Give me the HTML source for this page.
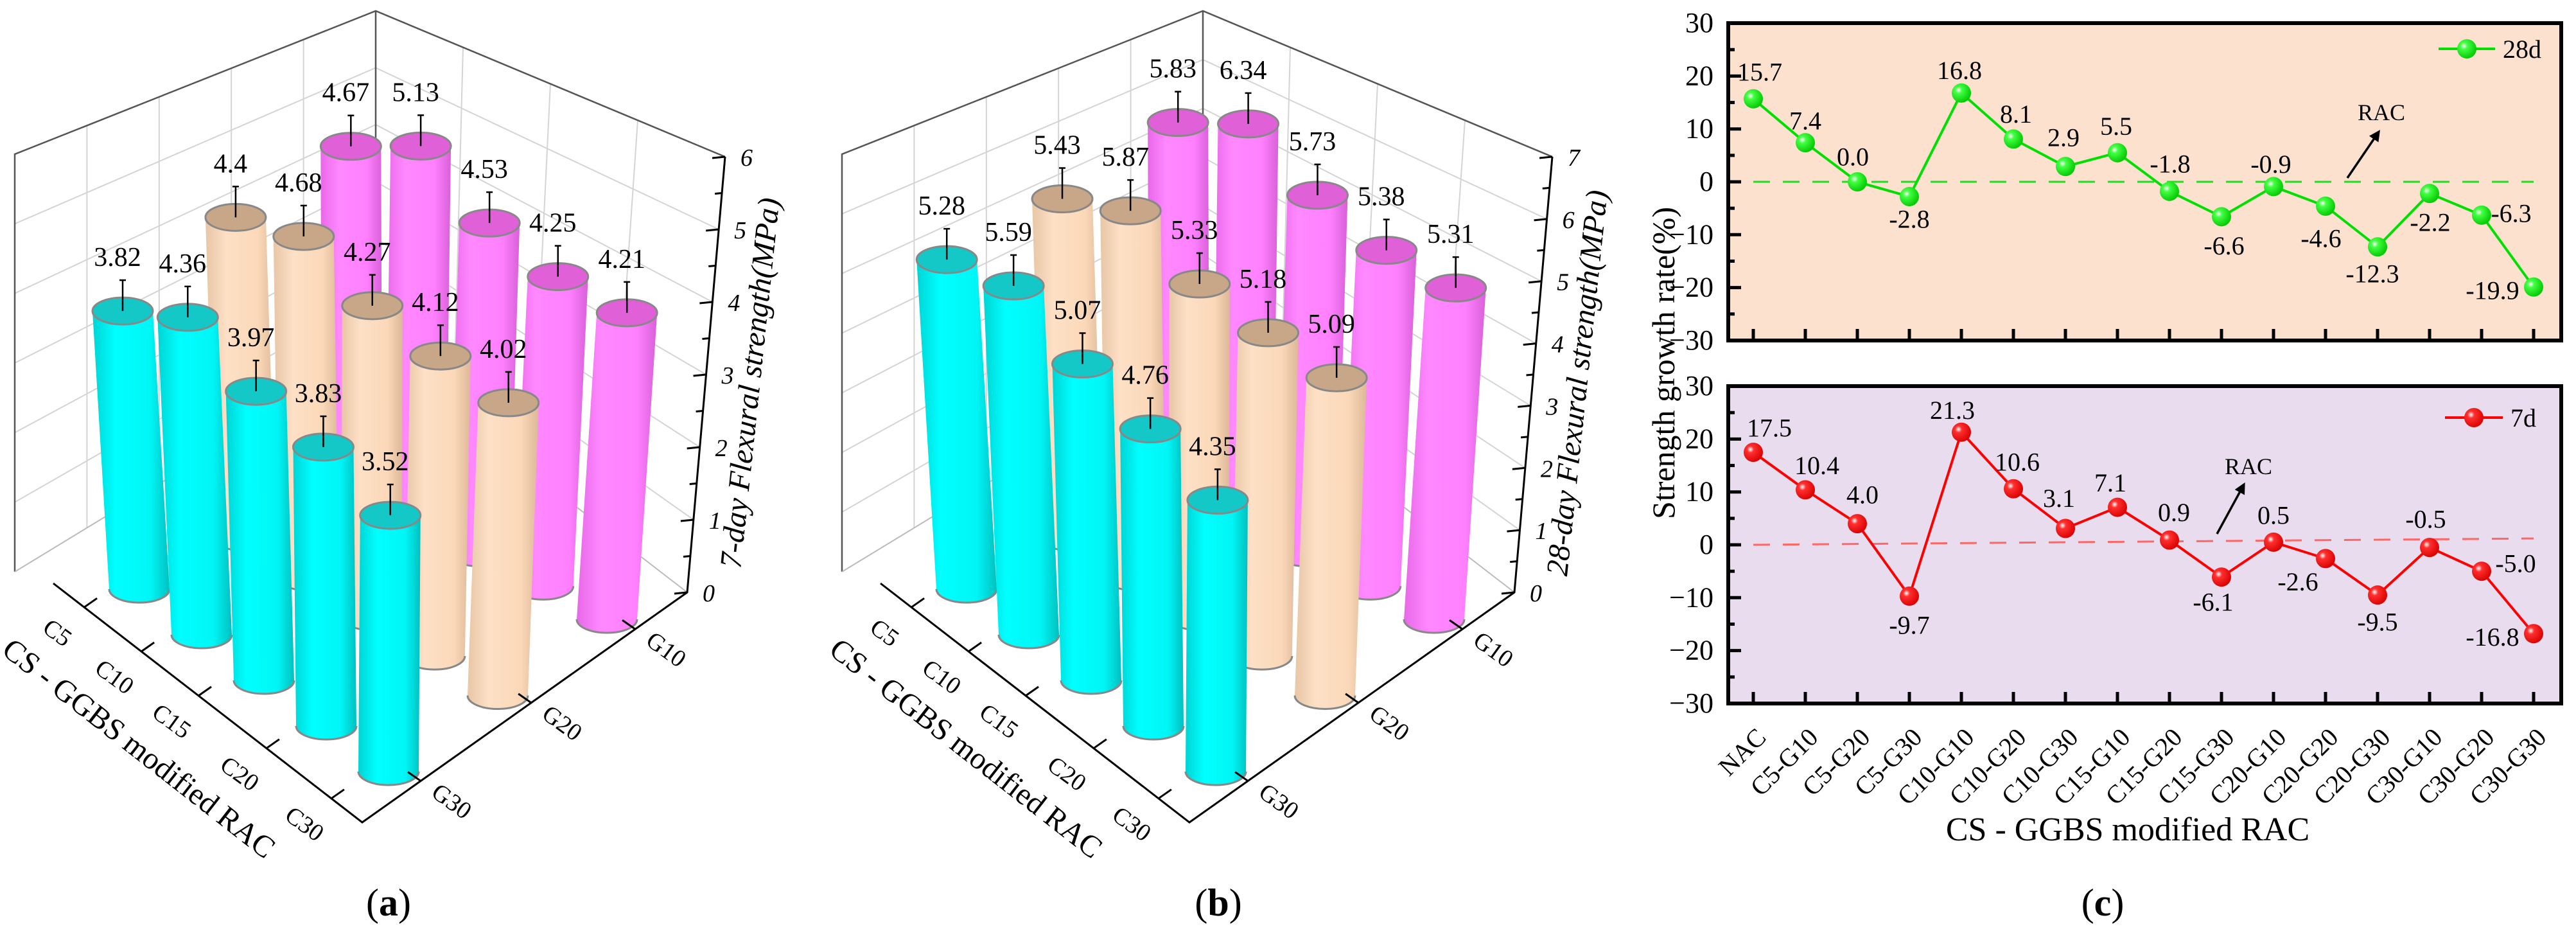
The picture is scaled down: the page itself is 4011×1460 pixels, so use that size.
<!DOCTYPE html>
<html><head><meta charset="utf-8"><style>
html,body{margin:0;padding:0;background:#fff;}
svg{display:block;font-family:"Liberation Serif",serif;}
</style></head><body>
<svg id="fig" width="4011" height="1460" viewBox="0 0 4011 1460" xmlns="http://www.w3.org/2000/svg">
<defs>
<linearGradient id="gCyan" x1="0" x2="1" y1="0" y2="0"><stop offset="0" stop-color="#00d4d4"/><stop offset="0.3" stop-color="#00ffff"/><stop offset="0.75" stop-color="#00f6f6"/><stop offset="1" stop-color="#00c0c0"/></linearGradient>
<linearGradient id="gTan" x1="0" x2="1" y1="0" y2="0"><stop offset="0" stop-color="#e8c6a6"/><stop offset="0.3" stop-color="#fde0c6"/><stop offset="0.75" stop-color="#fbd8b8"/><stop offset="1" stop-color="#dcb898"/></linearGradient>
<linearGradient id="gPink" x1="0" x2="1" y1="0" y2="0"><stop offset="0" stop-color="#e868e8"/><stop offset="0.3" stop-color="#ff88ff"/><stop offset="0.75" stop-color="#ff80ff"/><stop offset="1" stop-color="#d860d8"/></linearGradient>
<radialGradient id="sGreen" cx="0.35" cy="0.35" r="0.7"><stop offset="0" stop-color="#ffffff"/><stop offset="0.25" stop-color="#44ff44"/><stop offset="1" stop-color="#00c800"/></radialGradient>
<radialGradient id="sRed" cx="0.35" cy="0.35" r="0.7"><stop offset="0" stop-color="#ffffff"/><stop offset="0.25" stop-color="#ff3030"/><stop offset="1" stop-color="#d80000"/></radialGradient>
<marker id="arr" viewBox="0 0 10 10" refX="8" refY="5" markerWidth="5" markerHeight="5" orient="auto"><path d="M0,0 L10,5 L0,10 Z" fill="#000"/></marker>
</defs>
<g id="panelA"></g>
<g id="panelB"></g>
<g id="panelC"></g>
</svg>
<script>
// ---------- data ----------
const cCategories = ["C5","C10","C15","C20","C30"];
const gCategories = ["G10","G20","G30"];
const a_G10 = [4.67,5.13,4.53,4.25,4.21];
const a_G20 = [4.4,4.68,4.27,4.12,4.02];
const a_G30 = [3.82,4.36,3.97,3.83,3.52];
const b_G10 = [5.83,6.34,5.73,5.38,5.31];
const b_G20 = [5.43,5.87,5.33,5.18,5.09];
const b_G30 = [5.28,5.59,5.07,4.76,4.35];
const aTicks = [0,1,2,3,4,5,6];
const bTicks = [0,1,2,3,4,5,6,7];
const cLabels = ["NAC","C5-G10","C5-G20","C5-G30","C10-G10","C10-G20","C10-G30","C15-G10","C15-G20","C15-G30","C20-G10","C20-G20","C20-G30","C30-G10","C30-G20","C30-G30"];
const rate28 = [15.7,7.4,0.0,-2.8,16.8,8.1,2.9,5.5,-1.8,-6.6,-0.9,-4.6,-12.3,-2.2,-6.3,-19.9];
const rate7 = [17.5,10.4,4.0,-9.7,21.3,10.6,3.1,7.1,0.9,-6.1,0.5,-2.6,-9.5,-0.5,-5.0,-16.8];
const rateTicks = [-30,-20,-10,0,10,20,30];

const NS="http://www.w3.org/2000/svg";
function el(tag, attrs, parent, text){
  const e=document.createElementNS(NS,tag);
  for(const k in attrs) e.setAttribute(k,attrs[k]);
  if(text!==undefined) e.textContent=text;
  parent.appendChild(e); return e;
}
function lerp(p,q,t){return [p[0]+(q[0]-p[0])*t,p[1]+(q[1]-p[1])*t];}

// ---------- 3D bar panels ----------
function draw3D(g, dx, series, ticks, axisMax, yTitle, panelLabel, lx){
  const S=p=>[p[0]+dx,p[1]];
  const backTop=S([585,17]), backBot=S([585,548]);
  const leftTop=S([23,240]), leftBot=S([23,890]);
  const rightTop=S([1129,244]), rightBot=S([1070,922]);
  const floorL=S([83,908]), floorF=S([564,1280]);
  // walls
  const walls=el('g',{},g);
  
  
  const nT=ticks.length-1;
  for(let i=1;i<=nT;i++){
    const t=i/nT;
    const a=lerp(leftBot,leftTop,t), b=lerp(backBot,backTop,t), c=lerp(rightBot,rightTop,t);
    el('polyline',{points:`${a} ${b} ${c}`,fill:'none',stroke:'#d4d4d4','stroke-width':2},walls);
  }
  [0.2,0.4,0.6,0.8].forEach(f=>{
    const p=lerp(leftBot,backBot,f), q=lerp(leftTop,backTop,f);
    el('line',{x1:p[0],y1:p[1],x2:q[0],y2:q[1],stroke:'#d4d4d4','stroke-width':2},walls);
  });
  [0.25,0.5,0.75].forEach(f=>{
    const p=lerp(backBot,rightBot,f), q=lerp(backTop,rightTop,f);
    el('line',{x1:p[0],y1:p[1],x2:q[0],y2:q[1],stroke:'#d4d4d4','stroke-width':2},walls);
  });
  el('polyline',{points:`${leftBot} ${leftTop} ${backTop} ${rightTop}`,fill:'none',stroke:'#555','stroke-width':2.5},walls);
  el('polyline',{points:`${leftBot} ${backBot} ${rightBot}`,fill:'none',stroke:'#bbb','stroke-width':2},walls);
  el('line',{x1:backTop[0],y1:backTop[1],x2:backBot[0],y2:backBot[1],stroke:'#555','stroke-width':2.5},walls);

  // bars
  const A=S([217,917]), B=S([605,1201]), C=S([548,757]), D=S([945,964]);
  const V=[567+dx,6745];
  const H=680;
  const bars=[];
  series.forEach((vals,r)=>{
    vals.forEach((v,c)=>{
      const u=c/4, w=r/2;
      const p1=lerp(C,D,u), p2=lerp(A,B,u);
      const bot=lerp(p1,p2,w);
      bars.push({r,c,v,bot});
    });
  });
  bars.sort((p,q)=>p.bot[1]-q.bot[1]);
  const fills=['url(#gPink)','url(#gTan)','url(#gCyan)'];
  const tops=['#e060d8','#c8a688','#14c8c8'];
  const rx=47, ry=21;
  bars.forEach(b=>{
    const hp=b.v/axisMax*H;
    const k=hp/(V[1]-b.bot[1]);
    const bx=b.bot[0], by=b.bot[1];
    const tx=bx+(bx-V[0])*k, ty=by-hp;
    const bg=el('g',{},g);
    
    
    el('path',{d:`M${bx-rx},${by} L${tx-rx},${ty} L${tx+rx},${ty} L${bx+rx},${by} A${rx},${ry} 0 0 1 ${bx-rx},${by} Z`,fill:fills[b.r],stroke:'none'},bg);
    el('path',{d:`M${bx+rx},${by} A${rx},${ry} 0 0 1 ${bx-rx},${by}`,fill:'none',stroke:'#888','stroke-width':3},bg);
    el('ellipse',{cx:tx,cy:ty,rx:rx,ry:ry,fill:tops[b.r],stroke:'#888','stroke-width':3},bg);
    el('line',{x1:tx,y1:ty,x2:tx,y2:ty-48,stroke:'#000','stroke-width':2.5},bg);
    el('line',{x1:tx-5,y1:ty-48,x2:tx+5,y2:ty-48,stroke:'#000','stroke-width':2.5},bg);
    const lab=el('text',{x:tx-8,y:ty-83,'font-size':42,'text-anchor':'middle','dominant-baseline':'central',fill:'#000'},g,String(b.v));
    
    
  });

  // axes lines
  const ax=el('g',{},g);
  
  
  el('polyline',{points:`${floorL} ${floorF} ${rightBot} ${rightTop}`,fill:'none',stroke:'#000','stroke-width':3},ax);
  // vertical ticks
  ticks.forEach((tv,i)=>{
    const p=lerp(rightBot,rightTop,tv/axisMax);
    el('line',{x1:p[0],y1:p[1],x2:p[0]-20,y2:p[1]+2,stroke:'#000','stroke-width':3},ax);
    const t=el('text',{x:p[0]+24,y:p[1]+14,'font-size':38,'font-style':'italic',fill:'#000'},ax,String(tv));
    
    
    if(i<ticks.length-1){
      const m=lerp(rightBot,rightTop,(tv+0.5)/axisMax);
      el('line',{x1:m[0],y1:m[1],x2:m[0]-11,y2:m[1]+1,stroke:'#000','stroke-width':3},ax);
    }
  });
  // C ticks & labels
  const cf=[0.1,0.285,0.47,0.69,0.9];
  cCategories.forEach((c,i)=>{
    const p=lerp(floorL,floorF,cf[i]);
    el('line',{x1:p[0],y1:p[1],x2:p[0]+20,y2:p[1]-14,stroke:'#000','stroke-width':3},ax);
    const t=el('text',{x:p[0]-42,y:p[1]+40,'font-size':38,'text-anchor':'middle','dominant-baseline':'central',transform:`rotate(36 ${p[0]-42} ${p[1]+40})`,fill:'#000'},ax,c);
    
    
  });
  const gf=[0.84,0.52,0.18];
  gCategories.forEach((gc,i)=>{
    const p=lerp(floorF,rightBot,gf[i]);
    el('line',{x1:p[0],y1:p[1],x2:p[0]-20,y2:p[1]-14,stroke:'#000','stroke-width':3},ax);
    const t=el('text',{x:p[0]+48,y:p[1]+32,'font-size':38,'text-anchor':'middle','dominant-baseline':'central',transform:`rotate(36 ${p[0]+48} ${p[1]+32})`,fill:'#000'},ax,gc);
    
    
  });
  const xt=el('text',{x:216+dx,y:1165,'font-size':48,'text-anchor':'middle','dominant-baseline':'central',transform:`rotate(38 ${216+dx} 1165)`,fill:'#000'},g,'CS - GGBS modified RAC');
  
  
  const yt=el('text',{x:1168+dx,y:596,'font-size':48,'font-style':'italic','text-anchor':'middle','dominant-baseline':'central',transform:`rotate(-84 ${1168+dx} 596)`,fill:'#000'},g,yTitle);
  
  
  const pl=el('text',{x:lx,y:1425,'font-size':60,'text-anchor':'middle',fill:'#000'},g);
  
  
  el('tspan',{},pl,'(');
  el('tspan',{'font-weight':'bold'},pl,panelLabel);
  el('tspan',{},pl,')');
}
draw3D(document.getElementById('panelA'),0,[a_G10,a_G20,a_G30],aTicks,6,'7-day Flexural strength(MPa)','a',605);
draw3D(document.getElementById('panelB'),1288,[b_G10,b_G20,b_G30],bTicks,7,'28-day Flexural strength(MPa)','b',1897);

// ---------- panel c ----------
(function(){
  const g=document.getElementById('panelC');
  const L=2691,R=3988;
  const xs=i=>2730+81*i;
  const yT=v=>283-8.23*v;
  const yB=v=>848-8.23*v;
  const lab28dx=[10,0,-7,0,-3,4,-3,-2,1,4,-4,-7,-8,1,46,-64];
  const lab28dy=[-42,-34,-39,35,-35,-39,-45,-41,-43,45,-35,50,42,45,-3,5];
  const lab7dx=[25,18,8,0,-14,6,-10,-11,7,-13,0,-43,0,-6,53,-64];
  const lab7dy=[-38,-38,-45,45,-34,-42,-47,-38,-43,39,-42,36,42,-44,-12,5];
  function panel(name,top,bot,yf,vals,color,grad,bg,ldx,ldy,legend,dashEnd){
    const pg=el('g',{},g);
    
    
    el('rect',{x:L,y:top,width:R-L,height:bot-top,fill:bg,stroke:'none'},pg);
    // y ticks
    for(let v=-30;v<=30;v+=5){
      const y=yf(v), len=(v%10===0)?20:10;
      el('line',{x1:L,y1:y,x2:L+len,y2:y,stroke:'#000','stroke-width':5},pg);
    }
    rateTicks.forEach(v=>{
      const t=el('text',{x:2668,y:yf(v)+14,'font-size':44,'text-anchor':'end',fill:'#000'},pg,v<0?'\u2212'+Math.abs(v):String(v));
      
      
    });
    vals.forEach((v,i)=>{
      el('line',{x1:xs(i),y1:bot,x2:xs(i),y2:bot-18,stroke:'#000','stroke-width':5},pg);
    });
    // RAC baseline
    const base=el('line',{x1:xs(0),y1:yf(0),x2:xs(vals.length-1),y2:yf(dashEnd),stroke:color==='#00e000'?'#22dd22':'#ff6666','stroke-width':3,'stroke-dasharray':'26 20'},pg);
    
    
    const pts=vals.map((v,i)=>xs(i)+','+yf(v)).join(' ');
    const ln=el('polyline',{points:pts,fill:'none',stroke:color,'stroke-width':4},pg);
    
    
    vals.forEach((v,i)=>{
      const c=el('circle',{cx:xs(i),cy:yf(v),r:15,fill:grad},pg);
      
      
      const t=el('text',{x:xs(i)+ldx[i],y:yf(v)+ldy[i],'font-size':40,'text-anchor':'middle','dominant-baseline':'central',fill:'#000'},pg,v.toFixed(1));
      
      
    });
    el('rect',{x:L,y:top,width:R-L,height:bot-top,fill:'none',stroke:'#000','stroke-width':6},pg);
    // legend
    const lg=el('g',{},pg);
    
    
    el('line',{x1:legend.x1,y1:legend.y,x2:legend.x2,y2:legend.y,stroke:color,'stroke-width':4},lg);
    el('circle',{cx:(legend.x1+legend.x2)/2,cy:legend.y,r:15,fill:grad},lg);
    el('text',{x:legend.x2+12,y:legend.y+14,'font-size':40,fill:'#000'},lg,legend.label);
    // RAC annotation
    const an=el('g',{},pg);
    
    
    el('text',{x:legend.racX,y:legend.racY,'font-size':36,'text-anchor':'middle','dominant-baseline':'central',fill:'#000'},an,'RAC');
    el('line',{x1:legend.a1[0],y1:legend.a1[1],x2:legend.a2[0],y2:legend.a2[1],stroke:'#000','stroke-width':3.5,'marker-end':'url(#arr)'},an);
  }
  panel('growth-28d-panel',36,530,yT,rate28,'#00e000','url(#sGreen)','#fce1cf',lab28dx,lab28dy,
    {x1:3797,x2:3885,y:76,label:'28d',racX:3708,racY:175,a1:[3655,277],a2:[3704,205]},0);
  panel('growth-7d-panel',601,1095,yB,rate7,'#ff0000','url(#sRed)','#e9dcef',lab7dx,lab7dy,
    {x1:3807,x2:3897,y:650,label:'7d',racX:3501,racY:726,a1:[3452,831],a2:[3494,754]},1.2);
  cLabels.forEach((c,i)=>{
    const x=xs(i)+22,y=1150;
    const t=el('text',{x:x,y:y,'font-size':40,'text-anchor':'end',transform:`rotate(-45 ${x} ${y})`,fill:'#000'},g,c);
    
    
  });
  const xt=el('text',{x:3313,y:1308,'font-size':52,'text-anchor':'middle',fill:'#000'},g,'CS - GGBS modified RAC');
  
  
  const yt=el('text',{x:2590,y:565,'font-size':50,'text-anchor':'middle','dominant-baseline':'central',transform:'rotate(-90 2590 565)',fill:'#000'},g,'Strength growth rate(%)');
  
  
  const pl=el('text',{x:3274,y:1425,'font-size':60,'text-anchor':'middle',fill:'#000'},g);
  
  
  el('tspan',{},pl,'(');
  el('tspan',{'font-weight':'bold'},pl,'c');
  el('tspan',{},pl,')');
})();
</script>
</body></html>
